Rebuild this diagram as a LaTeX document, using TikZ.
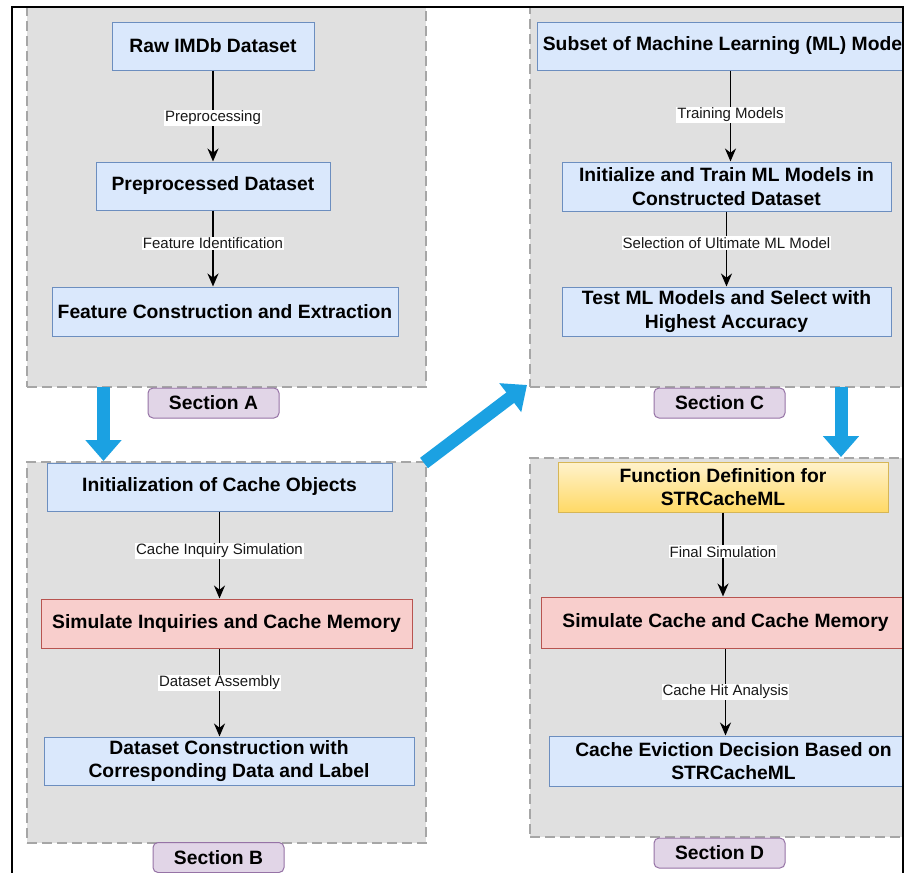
\documentclass[tikz,border=0pt]{standalone}
\usepackage{fontspec}
\setmainfont{Liberation Sans}
\usetikzlibrary{arrows.meta}
\definecolor{bluefill}{HTML}{DAE8FC}
\definecolor{bluestroke}{HTML}{6C8EBF}
\definecolor{redfill}{HTML}{F8CECC}
\definecolor{redstroke}{HTML}{B85450}
\definecolor{yeltop}{HTML}{FFF2CC}
\definecolor{yelbot}{HTML}{FFD966}
\definecolor{yelstroke}{HTML}{D6B656}
\definecolor{purfill}{HTML}{E1D5E7}
\definecolor{purstroke}{HTML}{9673A6}
\definecolor{contfill}{HTML}{E0E0E0}
\definecolor{contstroke}{HTML}{A6A6A6}
\definecolor{bigblue}{HTML}{1BA1E2}
\tikzset{
  container/.style={draw=contstroke, fill=contfill, line width=1.2pt, dash pattern=on 10pt off 5pt, inner sep=0pt},
  box/.style={draw=bluestroke, fill=bluefill, line width=1pt, inner sep=0pt, align=center,
    font=\bfseries\fontsize{19.3}{23.5}\selectfont, text=black},
  redbox/.style={box, draw=redstroke, fill=redfill},
  yelbox/.style={box, draw=yelstroke, top color=yeltop, bottom color=yelbot},
  seclabel/.style={draw=purstroke, fill=purfill, line width=1pt, rounded corners=5pt, inner sep=0pt,
    minimum width=131pt, minimum height=30pt, font=\bfseries\fontsize{19.3}{23.5}\selectfont},
  flow/.style={draw=black, line width=1.9pt, -{Stealth[length=13pt,width=11pt]}},
  lbl/.style={fill=white, inner sep=1pt, font=\fontsize{15}{18}\selectfont, text=black!90},
  bigarrow/.style={draw=bigblue, line width=13pt, -{Triangle[length=21pt,width=35pt]}}
}
\begin{document}
\begin{tikzpicture}[x=1pt,y=-1pt]
\useasboundingbox (0,0) rectangle (908,873);
\fill[white] (0,0) rectangle (908,873);
\begin{scope}
\clip (12,7) rectangle (903,873);
% containers
\node[container, minimum width=399pt, minimum height=384pt] (SA) at (226.5,195) {};
\node[container, minimum width=399pt, minimum height=381pt] (SB) at (226.5,652.5) {};
\node[container, minimum width=385pt, minimum height=384pt] (SC) at (722.5,195) {};
\node[container, minimum width=385pt, minimum height=379pt] (SD) at (722.5,647.5) {};
% section labels
\node[seclabel] (LA) at (213.5,403) {Section A};
\node[seclabel] (LB) at (218.5,857.5) {Section B};
\node[seclabel] (LC) at (719.5,403) {Section C};
\node[seclabel] (LD) at (719.5,853) {Section D};
% section A
\node[box, minimum width=202pt, minimum height=48pt] (A1) at (213,46) {Raw IMDb Dataset};
\node[box, minimum width=234pt, minimum height=48pt] (A2) at (213,186) {Preprocessed Dataset};
\node[box, minimum width=346pt, minimum height=49pt] (A3) at (225,311.5) {Feature Construction and Extraction};
\draw[flow] (A1.south) -- node[lbl, pos=0.52] {Preprocessing} (A2.north);
\draw[flow] (A2.south) -- node[lbl, pos=0.43] {Feature Identification} (A2.south |- A3.north);
% section B
\node[box, minimum width=345pt, minimum height=48pt] (B1) at (219.5,487) {Initialization of Cache Objects};
\node[redbox, minimum width=371pt, minimum height=49pt] (B2) at (226.5,623.5) {Simulate Inquiries and Cache Memory};
\node[box, minimum width=370pt, minimum height=48pt] (B3) at (229,761) {Dataset Construction with\\Corresponding Data and Label};
\draw[flow] (B1.south) -- node[lbl, pos=0.45] {Cache Inquiry Simulation} (B1.south |- B2.north);
\draw[flow] (B2.south -| B1.south) -- node[lbl, pos=0.39] {Dataset Assembly} (B1.south |- B3.north);
% section C
\node[box, minimum width=387pt, minimum height=48pt] (C1) at (730.5,46) {Subset of Machine Learning (ML) Models};
\node[box, minimum width=329pt, minimum height=49pt] (C2) at (726.5,186.5) {Initialize and Train ML Models in\\Constructed Dataset};
\node[box, minimum width=329pt, minimum height=49pt] (C3) at (726.5,311.5) {Test ML Models and Select with\\Highest Accuracy};
\draw[flow] (C1.south) -- node[lbl, pos=0.49] {Training Models} (C1.south |- C2.north);
\draw[flow] (C2.south) -- node[lbl, pos=0.42] {Selection of Ultimate ML Model} (C3.north);
% section D
\node[yelbox, minimum width=330pt, minimum height=50pt] (D1) at (723,487) {Function Definition for\\STRCacheML};
\node[redbox, minimum width=369pt, minimum height=51pt] (D2) at (725.5,622.5) {Simulate Cache and Cache Memory};
\node[box, minimum width=369pt, minimum height=50pt] (D3) at (733.5,761) {Cache Eviction Decision Based on\\STRCacheML};
\draw[flow] (D1.south) -- node[lbl, pos=0.47] {Final Simulation} (D1.south |- D2.north);
\draw[flow] (D2.south) -- node[lbl, pos=0.5] {Cache Hit Analysis} (D2.south |- D3.north);
% big blue arrows between sections
\coordinate (ab1) at (103.5,387);
\coordinate (ab2) at (103.5,461);
\coordinate (bc1) at (424,463);
\coordinate (bc2) at (527,385);
\coordinate (cd1) at (841,387);
\coordinate (cd2) at (841,457);
\draw[bigarrow] (ab1) -- (ab2);
\draw[bigarrow] (bc1) -- (bc2);
\draw[bigarrow] (cd1) -- (cd2);
\end{scope}
% outer frame
\draw[line width=2pt] (12,873) -- (12,7) -- (903,7) -- (903,873);
\end{tikzpicture}
\end{document}
